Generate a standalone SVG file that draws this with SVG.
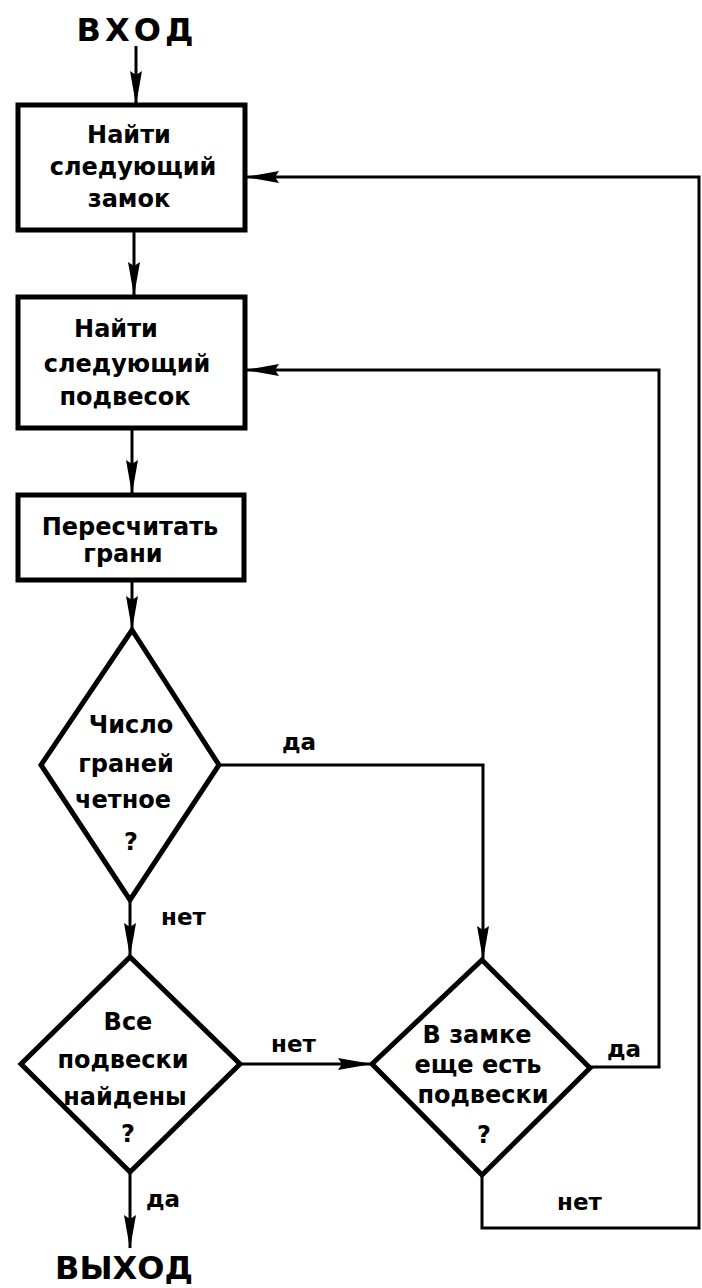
<svg xmlns="http://www.w3.org/2000/svg" width="702" height="1288" viewBox="0 0 702 1288">
<style>
.box{fill:#fff;stroke:#000;stroke-width:5}
.dia{fill:#fff;stroke:#000;stroke-width:5;stroke-linejoin:miter}
.t{font-family:"DejaVu Sans",sans-serif;font-weight:bold;font-size:24px;fill:#000;text-anchor:middle}
.lbl{font-family:"DejaVu Sans",sans-serif;font-weight:bold;font-size:23px;fill:#000}
.big{font-family:"DejaVu Sans",sans-serif;font-weight:bold;font-size:32px;fill:#000;text-anchor:middle}
.c{fill:none;stroke:#000;stroke-width:3}
</style>
<defs>
<marker id="ah" markerUnits="userSpaceOnUse" markerWidth="34" markerHeight="14" refX="33" refY="7" orient="auto" viewBox="0 0 34 14">
<path d="M0,1 L34,7 L0,13 L4,7 z" fill="#000"/>
</marker>
</defs>
<rect width="702" height="1288" fill="#fff"/>
<g id="connectors">
<path class="c" d="M136,46 V104" marker-end="url(#ah)"/>
<path class="c" d="M134,231 V295" marker-end="url(#ah)"/>
<path class="c" d="M132,429 V493" marker-end="url(#ah)"/>
<path class="c" d="M132,581 V629" marker-end="url(#ah)"/>
<path class="c" d="M130,900 V956" marker-end="url(#ah)"/>
<path class="c" d="M219,765 H483 V959" marker-end="url(#ah)"/>
<path class="c" d="M240,1064 H371" marker-end="url(#ah)"/>
<path class="c" d="M590,1067 H659 V370 H246" marker-end="url(#ah)"/>
<path class="c" d="M482,1175 V1228 H699 V177 H246" marker-end="url(#ah)"/>
<path class="c" d="M130,1172 V1248" marker-end="url(#ah)"/>
<text class="lbl" x="282" y="750">да</text>
<text class="lbl" x="161" y="925">нет</text>
<text class="lbl" x="271" y="1052">нет</text>
<text class="lbl" x="607" y="1057">да</text>
<text class="lbl" x="557" y="1210">нет</text>
<text class="lbl" x="146" y="1207">да</text>
</g>
<g id="entry"><text class="big" x="137" y="41" letter-spacing="4">ВХОД</text></g>
<g id="exit"><text class="big" x="124" y="1279">ВЫХОД</text></g>
<g id="n1">
<rect class="box" x="18" y="105" width="227" height="125"/>
<text class="t" x="129" y="143">Найти</text>
<text class="t" x="133" y="175">следующий</text>
<text class="t" x="129" y="207">замок</text>
</g>
<g id="n2">
<rect class="box" x="18" y="297" width="227" height="131"/>
<text class="t" x="116" y="337">Найти</text>
<text class="t" x="127" y="372">следующий</text>
<text class="t" x="125" y="405">подвесок</text>
</g>
<g id="n3">
<rect class="box" x="18" y="495" width="226" height="85"/>
<text class="t" x="130" y="535">Пересчитать</text>
<text class="t" x="123" y="562">грани</text>
</g>
<g id="d1">
<polygon class="dia" points="132,630 219,765 130,900 41,765"/>
<text class="t" x="131" y="733">Число</text>
<text class="t" x="126" y="772">граней</text>
<text class="t" x="123" y="808">четное</text>
<text class="t" x="131" y="850">?</text>
</g>
<g id="d2">
<polygon class="dia" points="130,957 240,1064 130,1172 21,1064"/>
<text class="t" x="128" y="1030">Все</text>
<text class="t" x="123" y="1068">подвески</text>
<text class="t" x="125" y="1105">найдены</text>
<text class="t" x="128" y="1142">?</text>
</g>
<g id="d3">
<polygon class="dia" points="482,960 590,1068 482,1175 372,1064"/>
<text class="t" x="477" y="1043">В замке</text>
<text class="t" x="478" y="1073">еще есть</text>
<text class="t" x="483" y="1103">подвески</text>
<text class="t" x="484" y="1143">?</text>
</g>
</svg>
